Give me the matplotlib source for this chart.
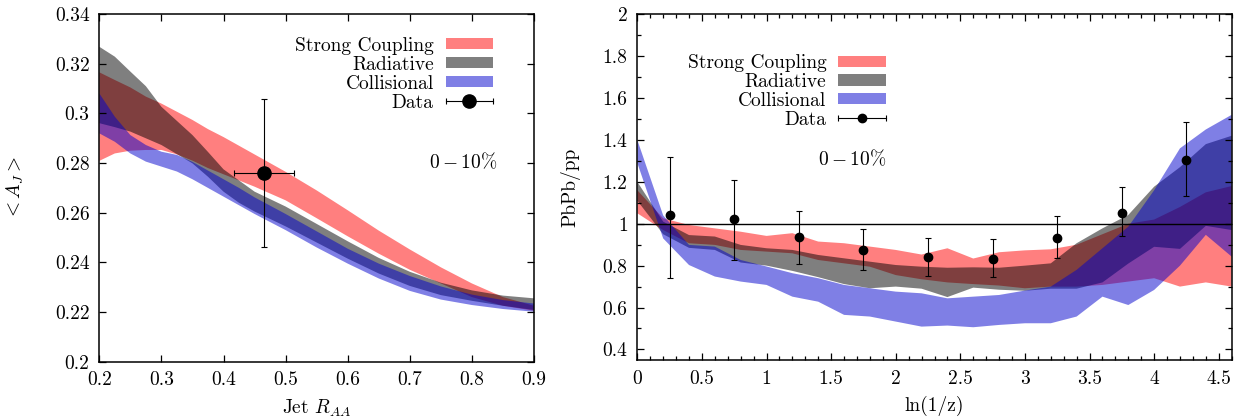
import matplotlib
matplotlib.use("Agg")
import matplotlib.pyplot as plt
import numpy as np
from matplotlib.patches import Patch
from matplotlib.lines import Line2D
from matplotlib.legend_handler import HandlerBase
from matplotlib.ticker import MultipleLocator, FuncFormatter

plt.rcParams['font.family'] = 'serif'
plt.rcParams['font.serif'] = ['cmr10']
plt.rcParams['mathtext.fontset'] = 'cm'
plt.rcParams['axes.unicode_minus'] = False
plt.rcParams['axes.formatter.use_mathtext'] = True

# ---------------- Left panel data: <A_J> vs Jet R_AA ----------------
raa_x = [0.2, 0.225, 0.25, 0.275, 0.3, 0.325, 0.35, 0.375, 0.4, 0.425, 0.45, 0.5, 0.55, 0.6, 0.65, 0.7, 0.75, 0.8, 0.85, 0.9]
sc_top = [0.3166, 0.3135, 0.3105, 0.3068, 0.304, 0.3007, 0.2974, 0.2937, 0.2905, 0.287, 0.2835, 0.2765, 0.269, 0.261, 0.2528, 0.2452, 0.238, 0.2315, 0.226, 0.2225]
sc_bot = [0.2809, 0.2839, 0.2850, 0.2853, 0.2853, 0.2835, 0.281, 0.278, 0.2755, 0.273, 0.2705, 0.265, 0.2578, 0.2505, 0.2435, 0.237, 0.2315, 0.226, 0.2225, 0.2205]
rad_top = [0.3269, 0.3229, 0.3169, 0.311, 0.3027, 0.297, 0.2913, 0.2845, 0.2775, 0.273, 0.2685, 0.2625, 0.2555, 0.2485, 0.2418, 0.2362, 0.2318, 0.2287, 0.2266, 0.2255]
rad_bot = [0.2961, 0.2945, 0.2927, 0.290, 0.2873, 0.2836, 0.2799, 0.2745, 0.2685, 0.264, 0.2605, 0.2545, 0.248, 0.2415, 0.2355, 0.2305, 0.2268, 0.2245, 0.2225, 0.2208]
col_top = [0.3081, 0.2987, 0.2913, 0.2873, 0.2846, 0.2833, 0.2805, 0.277, 0.2735, 0.2700, 0.2662, 0.2595, 0.2525, 0.2455, 0.2395, 0.2345, 0.2303, 0.2270, 0.2248, 0.2234]
col_bot = [0.2920, 0.2886, 0.2839, 0.2806, 0.2786, 0.2766, 0.2735, 0.270, 0.2665, 0.263, 0.2595, 0.253, 0.2460, 0.2395, 0.2335, 0.2285, 0.2250, 0.2228, 0.2212, 0.2201]
aj_data_x = [0.465]
aj_data_y = [0.276]
aj_data_xerr = [0.048]
aj_data_yerr = [0.030]

# ---------------- Right panel data: PbPb/pp vs ln(1/z) ----------------
lz_x = [0.0, 0.2, 0.4, 0.6, 0.8, 1.0, 1.2, 1.4, 1.6, 1.8, 2.0, 2.2, 2.4, 2.6, 2.8, 3.0, 3.2, 3.4, 3.6, 3.8, 4.0, 4.2, 4.4, 4.6]
sc2_top = [1.16, 1.026, 0.994, 0.978, 0.962, 0.942, 0.955, 0.915, 0.907, 0.891, 0.875, 0.853, 0.883, 0.834, 0.864, 0.873, 0.878, 0.90, 0.95, 1.00, 1.02, 1.08, 1.15, 1.18]
sc2_bot = [1.05, 0.97, 0.907, 0.899, 0.875, 0.867, 0.859, 0.827, 0.811, 0.795, 0.755, 0.735, 0.72, 0.712, 0.705, 0.692, 0.70, 0.70, 0.708, 0.724, 0.74, 0.70, 0.72, 0.70]
rad2_top = [1.20, 1.01, 0.946, 0.939, 0.899, 0.883, 0.875, 0.851, 0.835, 0.819, 0.803, 0.795, 0.79, 0.792, 0.79, 0.80, 0.811, 0.907, 0.978, 1.042, 1.177, 1.27, 1.38, 1.42]
rad2_bot = [1.11, 0.95, 0.885, 0.875, 0.815, 0.80, 0.775, 0.745, 0.712, 0.692, 0.70, 0.69, 0.65, 0.695, 0.685, 0.68, 0.69, 0.69, 0.72, 0.81, 0.89, 0.88, 0.99, 0.97]
col2_top = [1.40, 1.04, 0.899, 0.891, 0.827, 0.796, 0.764, 0.74, 0.708, 0.692, 0.676, 0.668, 0.644, 0.652, 0.66, 0.681, 0.70, 0.78, 0.883, 0.986, 1.16, 1.36, 1.45, 1.52]
col2_bot = [1.29, 0.93, 0.803, 0.748, 0.724, 0.708, 0.652, 0.628, 0.565, 0.557, 0.533, 0.509, 0.514, 0.506, 0.517, 0.525, 0.525, 0.557, 0.652, 0.612, 0.684, 0.80, 0.947, 0.843]
ff_x = [0.25, 0.75, 1.25, 1.75, 2.25, 2.75, 3.25, 3.75, 4.25]
ff_y = [1.042, 1.023, 0.938, 0.876, 0.841, 0.832, 0.931, 1.050, 1.303]
ff_err_lo = [0.299, 0.196, 0.132, 0.096, 0.092, 0.088, 0.094, 0.110, 0.172]
ff_err_hi = [0.275, 0.185, 0.124, 0.101, 0.090, 0.094, 0.105, 0.127, 0.183]

labels = ['Strong Coupling', 'Radiative', 'Collisional', 'Data']
band_colors = ['#ff0000', '#000000', '#0000cd']
band_alpha = 0.5
FS = 14

fig = plt.figure(figsize=(12.46, 4.19), dpi=100)
axL = fig.add_axes([0.0797, 0.137, 0.3489, 0.829])
axR = fig.add_axes([0.5115, 0.141, 0.4770, 0.825])


class DataHandler(HandlerBase):
    def __init__(self, ms, cap):
        super().__init__()
        self.ms = ms
        self.cap = cap

    def create_artists(self, legend, orig_handle, xdescent, ydescent,
                       width, height, fontsize, trans):
        y = height / 2.0 - ydescent
        x0 = -xdescent
        x1 = -xdescent + width
        line = Line2D([x0, x1], [y, y], color='k', lw=0.8)
        caps = Line2D([x0, x1], [y, y], ls='none', marker='|', ms=self.cap,
                      mew=0.8, color='k')
        dot = Line2D([(x0 + x1) / 2.0], [y], ls='none', marker='o',
                     ms=self.ms, color='k')
        for a in (line, caps, dot):
            a.set_transform(trans)
        return [line, caps, dot]


def style_axes(ax):
    ax.tick_params(which='both', direction='in', top=True, right=True,
                   labelsize=FS, width=0.9, pad=7)
    ax.tick_params(which='major', length=5)
    ax.tick_params(which='minor', length=3)
    for s in ax.spines.values():
        s.set_linewidth(1.1)
    fmt = FuncFormatter(lambda v, p: '%g' % round(v, 6))
    ax.xaxis.set_major_formatter(fmt)
    ax.yaxis.set_major_formatter(fmt)


def add_legend(ax, ms, cap, anchor):
    hs = [Patch(facecolor=c, alpha=band_alpha, edgecolor='none') for c in band_colors]
    dh = Line2D([], [])
    hs.append(dh)
    ax.legend(hs, labels, handler_map={dh: DataHandler(ms, cap)},
              loc='upper right', bbox_to_anchor=anchor, frameon=False,
              markerfirst=False, fontsize=FS, handlelength=2.45,
              handleheight=0.5, handletextpad=0.6, labelspacing=0.05,
              borderpad=0, borderaxespad=0)


# ---- Left ----
for top, bot, c in zip([sc_top, rad_top, col_top], [sc_bot, rad_bot, col_bot], band_colors):
    axL.fill_between(raa_x, bot, top, facecolor=c, alpha=band_alpha, edgecolor='none', lw=0)
axL.errorbar(aj_data_x, aj_data_y, xerr=aj_data_xerr, yerr=aj_data_yerr, fmt='o',
             color='k', ms=9.5, elinewidth=0.8, capsize=2.5, capthick=0.8)
axL.set_xlim(0.2, 0.9)
axL.set_ylim(0.2, 0.34)
axL.xaxis.set_major_locator(MultipleLocator(0.1))
axL.yaxis.set_major_locator(MultipleLocator(0.02))
style_axes(axL)
axL.set_xlabel(r'Jet $R_{AA}$', fontsize=FS, labelpad=6)
axL.set_ylabel(r'$<A_J>$', fontsize=FS, labelpad=21)
add_legend(axL, 9.5, 5, (0.906, 0.935))
axL.text(0.915, 0.575, r'$0-10\%$', transform=axL.transAxes, ha='right',
         va='center', fontsize=FS)

# ---- Right ----
for top, bot, c in zip([sc2_top, rad2_top, col2_top], [sc2_bot, rad2_bot, col2_bot], band_colors):
    axR.fill_between(lz_x, bot, top, facecolor=c, alpha=band_alpha, edgecolor='none', lw=0)
axR.axhline(1.0, color='k', lw=1.0)
axR.errorbar(ff_x, ff_y, yerr=[ff_err_lo, ff_err_hi], fmt='o', color='k', ms=6,
             elinewidth=0.8, capsize=2.5, capthick=0.8)
axR.set_xlim(0, 4.6)
axR.set_ylim(0.35, 2.0)
axR.xaxis.set_major_locator(MultipleLocator(0.5))
axR.xaxis.set_minor_locator(MultipleLocator(0.1))
axR.yaxis.set_major_locator(MultipleLocator(0.2))
axR.yaxis.set_minor_locator(MultipleLocator(0.1))
style_axes(axR)
axR.set_xlabel('ln(1/z)', fontsize=FS, labelpad=6)
axR.set_ylabel('PbPb/pp', fontsize=FS, labelpad=16)
add_legend(axR, 6, 5, (0.418, 0.885))
axR.text(0.418, 0.581, r'$0-10\%$', transform=axR.transAxes, ha='right',
         va='center', fontsize=FS)

fig.savefig('out.png', dpi=100)
